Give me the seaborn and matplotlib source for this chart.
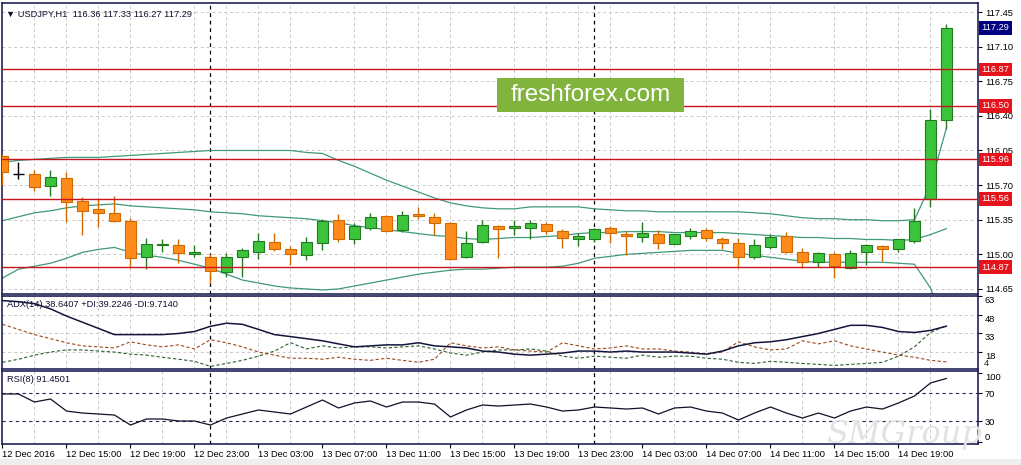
import matplotlib
matplotlib.use("Agg")
import matplotlib.pyplot as plt
import seaborn as sns
import pandas as pd
import numpy as np
from matplotlib.patches import Rectangle

# USDJPY H1, 12 Dec 2016 11:00 -> 14 Dec 2016 22:00
opens = [115.99, 115.81, 115.81, 115.69, 115.77, 115.54, 115.46, 115.42, 115.34, 114.97,
         115.09, 115.09, 115.00, 114.97, 114.82, 114.97, 115.02, 115.12, 115.05, 114.99,
         115.11, 115.35, 115.16, 115.27, 115.39, 115.25, 115.41, 115.38, 115.32, 114.97,
         115.12, 115.29, 115.27, 115.27, 115.31, 115.24, 115.16, 115.15, 115.27, 115.21,
         115.18, 115.21, 115.10, 115.19, 115.25, 115.16, 115.11, 114.97, 115.07, 115.19,
         115.02, 114.92, 115.00, 114.86, 115.02, 115.08, 115.05, 115.13, 115.56, 116.36]
highs = [116.01, 115.93, 115.85, 115.85, 115.83, 115.58, 115.57, 115.59, 115.37, 115.17,
         115.15, 115.15, 115.09, 115.00, 115.01, 115.06, 115.22, 115.22, 115.08, 115.18,
         115.36, 115.41, 115.32, 115.42, 115.40, 115.44, 115.48, 115.42, 115.33, 115.24,
         115.35, 115.30, 115.35, 115.35, 115.33, 115.26, 115.22, 115.27, 115.29, 115.24,
         115.33, 115.25, 115.21, 115.27, 115.27, 115.18, 115.17, 115.16, 115.21, 115.23,
         115.06, 115.02, 115.02, 115.04, 115.10, 115.09, 115.16, 115.47, 116.47, 117.33]
lows = [115.70, 115.76, 115.64, 115.59, 115.33, 115.20, 115.28, 115.33, 114.86, 114.85,
        115.02, 114.91, 114.97, 114.71, 114.77, 114.77, 114.95, 115.03, 114.89, 114.94,
        115.04, 115.12, 115.10, 115.25, 115.23, 115.23, 115.36, 115.20, 114.94, 114.96,
        115.11, 114.96, 115.20, 115.16, 115.21, 115.06, 115.08, 115.12, 115.11, 114.99,
        115.12, 115.05, 115.10, 115.16, 115.13, 115.05, 114.86, 114.95, 115.05, 115.01,
        114.86, 114.87, 114.76, 114.85, 114.89, 114.93, 115.02, 115.11, 115.48, 116.27]
closes = [115.83, 115.81, 115.68, 115.78, 115.53, 115.44, 115.42, 115.34, 114.96, 115.10,
          115.10, 115.01, 115.02, 114.83, 114.97, 115.04, 115.13, 115.05, 115.00, 115.12,
          115.34, 115.15, 115.29, 115.38, 115.24, 115.40, 115.39, 115.32, 114.95, 115.11,
          115.30, 115.26, 115.29, 115.32, 115.24, 115.17, 115.19, 115.26, 115.22, 115.19,
          115.22, 115.11, 115.21, 115.24, 115.17, 115.11, 114.97, 115.09, 115.18, 115.02,
          114.92, 115.01, 114.88, 115.01, 115.09, 115.05, 115.15, 115.34, 116.36, 117.29]

# Bollinger bands
bb_upper = [115.93, 115.95, 115.96, 115.97, 115.98, 115.98, 115.98, 115.99, 116.00, 116.01,
            116.02, 116.03, 116.04, 116.05, 116.05, 116.05, 116.05, 116.05, 116.05, 116.03,
            116.02, 115.95, 115.89, 115.82, 115.75, 115.69, 115.63, 115.57, 115.52, 115.49,
            115.47, 115.46, 115.46, 115.48, 115.48, 115.48, 115.48, 115.46, 115.45, 115.44,
            115.44, 115.43, 115.43, 115.43, 115.43, 115.43, 115.43, 115.42, 115.41, 115.39,
            115.37, 115.36, 115.36, 115.35, 115.35, 115.34, 115.34, 115.35, 115.70, 116.28]
bb_middle = [115.34, 115.38, 115.42, 115.44, 115.47, 115.49, 115.50, 115.51, 115.49, 115.48,
             115.47, 115.46, 115.45, 115.43, 115.42, 115.41, 115.39, 115.38, 115.37, 115.36,
             115.34, 115.32, 115.29, 115.27, 115.25, 115.23, 115.21, 115.19, 115.18, 115.16,
             115.15, 115.16, 115.17, 115.17, 115.18, 115.19, 115.21, 115.22, 115.22, 115.23,
             115.23, 115.23, 115.22, 115.22, 115.22, 115.22, 115.21, 115.20, 115.19, 115.18,
             115.17, 115.17, 115.16, 115.16, 115.15, 115.15, 115.14, 115.15, 115.20, 115.26]
bb_lower = [114.76, 114.85, 114.88, 114.91, 114.96, 115.02, 115.05, 115.07, 115.02, 114.99,
            114.97, 114.94, 114.90, 114.86, 114.80, 114.74, 114.71, 114.68, 114.66, 114.65,
            114.64, 114.65, 114.68, 114.71, 114.74, 114.77, 114.80, 114.82, 114.84, 114.85,
            114.85, 114.86, 114.87, 114.87, 114.87, 114.88, 114.91, 114.96, 114.98, 115.00,
            115.01, 115.02, 115.03, 115.04, 115.04, 115.04, 115.01, 114.99, 114.97, 114.95,
            114.93, 114.92, 114.92, 114.92, 114.92, 114.92, 114.91, 114.90, 114.66, 114.24]

# ADX(14)
adx = [59.3, 58.4, 56.8, 52.6, 46.8, 41.8, 36.8, 31.8, 31.8, 31.8,
       31.8, 32.7, 34.3, 38.5, 41.0, 40.1, 36.0, 31.8, 30.2, 28.5,
       26.8, 24.3, 21.9, 22.7, 23.5, 23.5, 25.2, 22.7, 21.9, 21.0,
       18.5, 17.7, 16.0, 15.2, 16.0, 16.9, 18.5, 18.5, 17.7, 18.5,
       17.7, 17.7, 17.7, 16.9, 16.0, 18.5, 22.7, 25.2, 26.0, 27.7,
       30.2, 32.7, 36.0, 39.3, 39.3, 37.6, 34.3, 33.5, 35.2, 38.6]
plus_di = [9.4, 11.9, 15.2, 17.7, 19.4, 19.4, 18.5, 17.7, 16.0, 15.2,
           13.5, 11.9, 10.2, 6.1, 8.5, 11.0, 14.4, 18.5, 25.2, 20.2,
           22.7, 21.0, 21.9, 21.9, 21.0, 21.9, 22.7, 20.2, 16.9, 15.2,
           17.7, 19.4, 19.4, 20.2, 18.5, 14.4, 12.7, 14.4, 13.5, 12.7,
           15.2, 13.5, 14.4, 14.4, 12.7, 11.9, 9.4, 8.5, 10.2, 9.4,
           8.5, 7.7, 6.9, 7.7, 8.5, 9.4, 14.4, 21.9, 33.5, 39.2]
minus_di = [40.1, 36.0, 31.8, 28.5, 25.2, 22.7, 21.9, 21.0, 26.0, 23.5,
            21.9, 23.5, 20.2, 27.7, 25.2, 21.9, 17.7, 15.2, 12.7, 12.7,
            11.9, 13.5, 11.9, 11.0, 12.7, 11.0, 9.4, 11.9, 25.2, 22.7,
            21.0, 21.9, 19.4, 18.5, 17.7, 25.2, 22.7, 20.2, 21.0, 22.7,
            20.2, 20.2, 18.5, 17.7, 16.0, 17.7, 26.0, 21.9, 19.4, 20.2,
            26.8, 24.3, 26.8, 22.7, 20.2, 17.7, 15.2, 13.5, 11.0, 9.7]

# RSI(8)
rsi = [69.0, 69.0, 57.4, 61.8, 44.4, 41.5, 40.1, 38.6, 24.2, 32.9,
       32.9, 30.0, 30.0, 24.2, 34.3, 40.1, 45.9, 43.0, 40.1, 50.2,
       60.3, 48.8, 56.0, 58.9, 50.2, 57.4, 57.4, 54.5, 35.8, 45.9,
       53.1, 51.6, 53.1, 54.5, 50.2, 44.4, 45.9, 50.2, 48.8, 47.3,
       48.8, 40.1, 48.8, 50.2, 44.4, 41.5, 31.4, 41.5, 50.2, 41.5,
       34.3, 41.5, 34.3, 44.4, 50.2, 47.3, 56.0, 66.1, 84.9, 91.45]

# support / resistance levels
levels = [116.87, 116.50, 115.96, 115.56, 114.87]
last_price = 117.29
day_breaks = [13, 37]

price_ticks = [117.45, 117.10, 116.75, 116.40, 116.05, 115.70, 115.35, 115.00, 114.65]
adx_ticks = [63, 48, 33, 18]
rsi_ticks = [100, 70, 30, 0]
time_labels = ["12 Dec 2016", "12 Dec 15:00", "12 Dec 19:00", "12 Dec 23:00",
               "13 Dec 03:00", "13 Dec 07:00", "13 Dec 11:00", "13 Dec 15:00",
               "13 Dec 19:00", "13 Dec 23:00", "14 Dec 03:00", "14 Dec 07:00",
               "14 Dec 11:00", "14 Dec 15:00", "14 Dec 19:00"]

# colours
BULL, BULL_EDGE = "#3cc43c", "#237a23"
BEAR, BEAR_EDGE = "#ff8c1a", "#d06a00"
BAND = "#3f9a78"
LEVEL = "#c8141e"
FRAME = "#10104a"
GRIDC = "#c8c8c8"

sns.set_style("white")
plt.rcParams["font.family"] = ["Liberation Sans", "DejaVu Sans"]
FS = 6.7

candles = pd.DataFrame({"open": opens, "high": highs, "low": lows, "close": closes})
candles["x"] = np.arange(len(candles))
xs = candles["x"].to_numpy()

W, H = 1021, 465
fig = plt.figure(figsize=(W / 100, H / 100), dpi=100)

# light grey strip along the bottom edge
fig.patches.append(Rectangle((0, 0), 1, 6 / H, transform=fig.transFigure,
                             fc="#eeeeee", ec="none", zorder=0))


def px_axes(x0, y0, x1, y1):
    return fig.add_axes([x0 / W, 1 - y1 / H, (x1 - x0) / W, (y1 - y0) / H])


ax = px_axes(2, 3, 978, 294)
ax_adx = px_axes(2, 296, 978, 369)
ax_rsi = px_axes(2, 371, 978, 444)

for a in (ax, ax_adx, ax_rsi):
    a.set_xlim(-0.03, 60.97)
    a.set_xticks(xs[::2], minor=True)
    a.grid(which="minor", axis="x", color=GRIDC, ls=(0, (3, 3)), lw=0.7)
    a.grid(which="major", axis="x", visible=False)
    a.yaxis.tick_right()
    a.tick_params(axis="y", which="major", direction="out", length=3, width=0.8,
                  labelsize=FS, pad=2, colors="black", right=True, left=False)
    a.tick_params(axis="x", which="minor", length=0)
    for s in a.spines.values():
        s.set_color(FRAME)
        s.set_linewidth(1.1)
    for d in day_breaks:
        a.axvline(d, color="black", ls=(0, (3, 3)), lw=0.9, zorder=1)

# ---- price panel
ax.set_ylim(114.599, 117.541)
ax.set_yticks(price_ticks)
ax.set_yticklabels([f"{t:.2f}" for t in price_ticks])
ax.grid(which="major", axis="y", color=GRIDC, ls=(0, (3, 3)), lw=0.7)
ax.tick_params(axis="x", which="major", bottom=False, labelbottom=False)

for band in (bb_upper, bb_middle, bb_lower):
    sns.lineplot(x=xs, y=band, ax=ax, color=BAND, lw=0.9, zorder=2)

up = candles[candles["close"] > candles["open"]]
down = candles[candles["close"] < candles["open"]]
flat = candles[candles["close"] == candles["open"]]
bw = 0.66
ax.vlines(up["x"], up["low"], up["high"], color=BULL_EDGE, lw=1, zorder=3)
ax.bar(up["x"], up["close"] - up["open"], bottom=up["open"], width=bw,
       color=BULL, edgecolor=BULL_EDGE, lw=0.8, zorder=4)
ax.vlines(down["x"], down["low"], down["high"], color=BEAR_EDGE, lw=1, zorder=3)
ax.bar(down["x"], down["open"] - down["close"], bottom=down["close"], width=bw,
       color=BEAR, edgecolor=BEAR_EDGE, lw=0.8, zorder=4)
ax.vlines(flat["x"], flat["low"], flat["high"], color="black", lw=1, zorder=3)
ax.hlines(flat["close"], flat["x"] - bw / 2, flat["x"] + bw / 2, color="black", lw=1, zorder=4)

ytr = ax.get_yaxis_transform()
for lvl in levels:
    ax.axhline(lvl, color=LEVEL, lw=1, zorder=5)
    ax.text(1.0035, lvl, f"{lvl:.2f}", transform=ytr, ha="left", va="center", color="white",
            fontsize=FS, zorder=6, clip_on=False,
            bbox=dict(boxstyle="square,pad=0.25", fc="#e4131c", ec="none"))
ax.text(1.0035, last_price, f"{last_price:.2f}", transform=ytr, ha="left", va="center",
        color="white", fontsize=FS, zorder=6, clip_on=False,
        bbox=dict(boxstyle="square,pad=0.25", fc="#000080", ec="none"))

ax.text(0.004, 0.962, "\u25bc USDJPY,H1  116.36 117.33 116.27 117.29", transform=ax.transAxes,
        ha="left", va="center", fontsize=FS, color="#101030", zorder=7)

# watermark box
ax.add_patch(Rectangle((0.5072, 0.6254), 0.1916, 0.1168, transform=ax.transAxes,
                       fc="#80b43c", ec="none", zorder=8))
ax.text(0.603, 0.684, "freshforex.com", transform=ax.transAxes, ha="center", va="center",
        color="white", fontsize=17.5, zorder=9)

# ---- ADX panel
ax_adx.set_ylim(4, 63)
ax_adx.set_yticks(adx_ticks)
ax_adx.set_yticklabels([str(t) for t in adx_ticks], va="top")
ax_adx.grid(which="major", axis="y", color=GRIDC, ls=(0, (3, 3)), lw=0.7)
ax_adx.tick_params(axis="x", which="major", bottom=False, labelbottom=False)
sns.lineplot(x=xs, y=plus_di, ax=ax_adx, color="#2f5f2f", lw=0.8, ls=(0, (3, 2)))
sns.lineplot(x=xs, y=minus_di, ax=ax_adx, color="#9a4a1e", lw=0.8, ls=(0, (3, 2)))
sns.lineplot(x=xs, y=adx, ax=ax_adx, color="#14143c", lw=1.1)
ax_adx.text(1.006, 4.6, "4", transform=ax_adx.get_yaxis_transform(), ha="left", va="bottom",
            fontsize=FS, clip_on=False)
ax_adx.text(0.005, 0.877, "ADX(14) 38.6407 +DI:39.2246 -DI:9.7140", transform=ax_adx.transAxes,
            ha="left", va="center", fontsize=FS, color="#101030")

# ---- RSI panel
ax_rsi.set_ylim(-3.2, 102.2)
ax_rsi.set_yticks(rsi_ticks)
ax_rsi.set_yticklabels([str(t) for t in rsi_ticks])
lbls = ax_rsi.get_yticklabels()
lbls[0].set_va("top")
lbls[-1].set_va("bottom")
ax_rsi.grid(which="major", axis="y", visible=False)
for lv in (70, 30):
    ax_rsi.axhline(lv, color="#2e2456", ls=(0, (3, 3)), lw=0.8)
sns.lineplot(x=xs, y=rsi, ax=ax_rsi, color="#101028", lw=0.9)
ax_rsi.text(0.005, 0.877, "RSI(8) 91.4501", transform=ax_rsi.transAxes,
            ha="left", va="center", fontsize=FS, color="#101030")

ax_rsi.set_xticks(xs[::4])
ax_rsi.set_xticklabels(time_labels, ha="left")
ax_rsi.tick_params(axis="x", which="major", direction="out", length=3, width=0.8,
                   labelsize=FS, pad=1.5, bottom=True, colors="black")

for a in (ax, ax_adx, ax_rsi):
    a.set_xlabel("")
    a.set_ylabel("")
    if a.get_legend() is not None:
        a.get_legend().remove()

# faint corner watermark
fig.text(0.885, 0.065, "SMGroup", fontsize=23, style="italic", family="DejaVu Serif",
         color="#e2e2e2", ha="center", va="center", zorder=0)

fig.savefig("out.png", dpi=100)
